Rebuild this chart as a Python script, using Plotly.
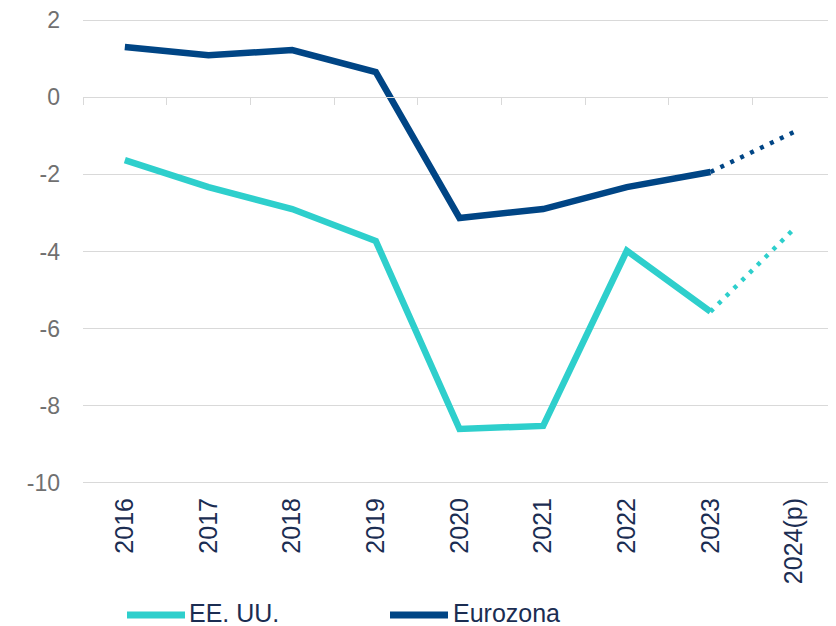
import plotly.graph_objects as go

categories = ["2016", "2017", "2018", "2019", "2020", "2021", "2022", "2023", "2024(p)"]
eeuu = [-1.63, -2.33, -2.9, -3.73, -8.6, -8.52, -3.98, -5.56, -3.41]
eurozona = [1.3, 1.09, 1.22, 0.65, -3.13, -2.9, -2.33, -1.94, -0.9]
y_ticks = [2, 0, -2, -4, -6, -8, -10]
y_ticktext = [str(v) for v in y_ticks]
series_names = ["EE. UU.", "Eurozona"]
n_actual = 8

c_us = "#2ECFCC"
c_ez = "#004585"
grid = "#D9D9D9"
text_navy = "#1B2D52"

# the page body adds an 8px offset; compensate
OFF = 8
W, H = 836, 626
L, R, T, B = 75, 8, 10, 149
PW, PH = W - L - R, H - T - B
# small padding so the gridlines at 2 and -10 are not clipped at the range ends
y_pad = 0.052
y_range = [-10 - y_pad, 2 + y_pad]


def px_x(px):
    return (px - OFF - L) / PW


def px_y(py):
    return (H - B - (py - OFF)) / PH


fig = go.Figure()
fig.add_trace(go.Scatter(x=categories[:n_actual], y=eeuu[:n_actual], mode="lines",
                         name=series_names[0], line=dict(color=c_us, width=6.5)))
fig.add_trace(go.Scatter(x=categories[:n_actual], y=eurozona[:n_actual], mode="lines",
                         name=series_names[1], line=dict(color=c_ez, width=6.5)))
fig.add_trace(go.Scatter(x=categories[n_actual - 1:], y=eeuu[n_actual - 1:], mode="lines",
                         showlegend=False, line=dict(color=c_us, width=4.5, dash="4px,7px")))
fig.add_trace(go.Scatter(x=categories[n_actual - 1:], y=eurozona[n_actual - 1:], mode="lines",
                         showlegend=False, line=dict(color=c_ez, width=4.5, dash="4px,7px")))
# hidden trace for zero-line category axis
fig.add_trace(go.Scatter(x=categories, y=[None] * len(categories), xaxis="x2",
                         showlegend=False, hoverinfo="skip", mode="lines"))

# manual legend (long line symbols like the reference)
legend_items = [(series_names[0], c_us, 127, 185, 188), (series_names[1], c_ez, 390, 448, 452)]
for name, col, x0, x1, xt in legend_items:
    fig.add_shape(type="line", xref="paper", yref="paper",
                  x0=px_x(x0), x1=px_x(x1), y0=px_y(615), y1=px_y(615),
                  line=dict(color=col, width=7))
    fig.add_annotation(text=name, xref="paper", yref="paper", x=px_x(xt), y=px_y(613),
                       xanchor="left", yanchor="middle", showarrow=False, borderpad=0,
                       font=dict(size=25, color=text_navy))

xr = [-0.5, len(categories) - 0.5]
zero_pos = (0 - y_range[0]) / (y_range[1] - y_range[0])
fig.update_layout(
    width=W, height=H,
    margin=dict(l=L, r=R, t=T, b=B),
    plot_bgcolor="white", paper_bgcolor="white",
    font=dict(family="Liberation Sans, Arial, sans-serif"),
    showlegend=False,
    xaxis=dict(type="category", categoryorder="array", categoryarray=categories,
               range=xr, tickangle=-90, showgrid=False, ticks="", showline=False,
               automargin=False, ticklabeloverflow="allow",
               tickfont=dict(size=25, color=text_navy), ticklabelstandoff=7),
    xaxis2=dict(type="category", categoryorder="array", categoryarray=categories,
                range=xr, overlaying="x", anchor="free", position=zero_pos, side="bottom",
                showticklabels=False, ticks="outside", ticklen=7, tickcolor=grid,
                tickwidth=1, tickson="boundaries", showline=True, linecolor=grid,
                linewidth=1, showgrid=False, automargin=False),
    yaxis=dict(range=y_range, tickvals=y_ticks, ticktext=y_ticktext, showgrid=True,
               gridcolor=grid, gridwidth=1, zeroline=False, showline=False, ticks="",
               automargin=False, ticklabeloverflow="allow",
               tickfont=dict(size=23, color="#707070"), ticklabelstandoff=22),
)

fig.write_html("out.html")
